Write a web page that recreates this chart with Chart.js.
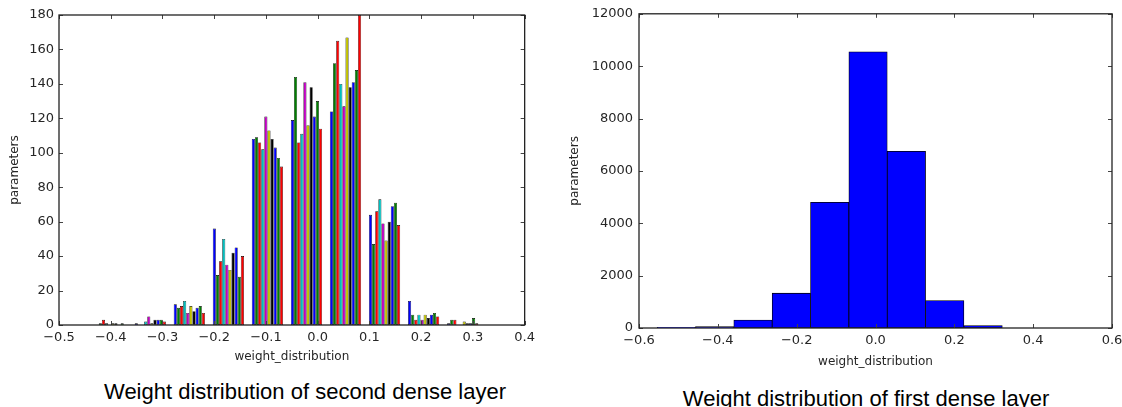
<!DOCTYPE html>
<html>
<head>
<meta charset="utf-8">
<script src="https://cdn.jsdelivr.net/npm/chart.js@4.4.0/dist/chart.umd.min.js"></script>
<style>
  html, body { margin: 0; padding: 0; background: #fff; width: 1122px; height: 407px; overflow: hidden; }
  canvas { position: absolute; top: 0; }
  #leftChart { left: 0; }
  #rightChart { left: 560px; }
  .caption {
    position: absolute; width: 520px; text-align: center;
    font-family: "Liberation Sans Narrow", "Liberation Sans", sans-serif;
    font-size: 22px; line-height: 22px; color: #000; white-space: nowrap;
  }
</style>
</head>
<body>
<canvas id="leftChart" width="540" height="370" style="width:540px;height:370px"></canvas>
<canvas id="rightChart" width="575" height="375" style="width:575px;height:375px"></canvas>
<div class="caption" style="left:45px;top:381px">Weight distribution of second dense layer</div>
<div class="caption" style="left:606px;top:388px">Weight distribution of first dense layer</div>

<script>
// second dense layer: bin centres and one count array per neuron
var binCenters2 = [-0.399, -0.3235, -0.2481, -0.1726, -0.0972, -0.0217, 0.0537, 0.1292, 0.2047, 0.2802];
var neuron0 = [0, 1, 12, 56, 108, 119, 124, 64, 14, 1];
var neuron1 = [1, 0, 10, 29, 109, 144, 152, 47, 6, 3];
var neuron2 = [3, 0, 11, 37, 106, 106, 165, 66, 3, 3];
var neuron3 = [1, 2, 14, 50, 102, 111, 140, 73, 6, 0];
var neuron4 = [0, 5, 7, 35, 121, 141, 127, 59, 3, 0];
var neuron5 = [1, 1, 11, 32, 113, 116, 167, 49, 6, 2];
var neuron6 = [1, 3, 8, 42, 108, 138, 138, 60, 4, 1];
var neuron7 = [0, 3, 10, 45, 103, 121, 141, 69, 6, 1];
var neuron8 = [1, 3, 11, 28, 97, 130, 148, 71, 7, 4];
var neuron9 = [0, 2, 7, 40, 92, 114, 180, 58, 5, 1];
var neuronColors = ['#0000ff', '#008000', '#ff0000', '#00bfbf', '#bf00bf', '#bfbf00', '#000000', '#0000ff', '#008000', '#ff0000'];

// first dense layer
var binCenters1 = [-0.5054, -0.4081, -0.3108, -0.2135, -0.1162, -0.0189, 0.0784, 0.1757, 0.2730];
var counts1 = [30, 50, 300, 1330, 4800, 10550, 6750, 1050, 90];

var tickFont = { family: 'DejaVu Sans', size: 13 };
var titleFont = { family: 'DejaVu Sans', size: 12 };
var textColor = '#262626';

function minusFmt(v, digits) {
    return v.toFixed(digits).replace('-', '\u2212');
}

// matplotlib-like frame with inward ticks on all four sides
var framePlugin = {
    id: 'frame',
    afterDraw: function (chart) {
        var ctx = chart.ctx, a = chart.chartArea, x = chart.scales.x, y = chart.scales.y;
        ctx.save();
        ctx.strokeStyle = '#444';
        ctx.lineWidth = 1;
        ctx.beginPath();
        x.ticks.forEach(function (t) {
            var px = Math.round(x.getPixelForValue(t.value)) + 0.5;
            ctx.moveTo(px, a.bottom); ctx.lineTo(px, a.bottom - 4);
            ctx.moveTo(px, a.top); ctx.lineTo(px, a.top + 4);
        });
        y.ticks.forEach(function (t) {
            var py = Math.round(y.getPixelForValue(t.value)) + 0.5;
            ctx.moveTo(a.left, py); ctx.lineTo(a.left + 4, py);
            ctx.moveTo(a.right, py); ctx.lineTo(a.right - 4, py);
        });
        ctx.stroke();
        ctx.strokeStyle = '#222';
        ctx.lineWidth = 1.3;
        ctx.strokeRect(a.left, a.top, a.right - a.left, a.bottom - a.top);
        ctx.restore();
    }
};

function makeScales(xMin, xMax, xStep, yMax, yStep, yWidth, xHeight, yPad) {
    return {
        x: {
            type: 'linear', min: xMin, max: xMax, offset: false,
            grid: { display: false, drawTicks: false }, border: { display: false },
            ticks: { stepSize: xStep, font: tickFont, color: textColor, padding: 5, maxRotation: 0,
                callback: function (v) { return minusFmt(v, 1); } },
            title: { display: true, text: 'weight_distribution', font: titleFont, color: textColor, padding: { top: 0, bottom: 6 } },
            afterFit: function (scale) { scale.height = xHeight; }
        },
        y: {
            min: 0, max: yMax,
            grid: { display: false, drawTicks: false }, border: { display: false },
            ticks: { stepSize: yStep, font: tickFont, color: textColor, padding: yPad,
                callback: function (v) { return String(v); } },
            title: { display: true, text: 'parameters', font: titleFont, color: textColor, padding: { top: 8, bottom: 0 } },
            afterFit: function (scale) { scale.width = yWidth; }
        }
    };
}

var neurons = [neuron0, neuron1, neuron2, neuron3, neuron4, neuron5, neuron6, neuron7, neuron8, neuron9];

new Chart(document.getElementById('leftChart').getContext('2d'), {
    type: 'bar',
    data: {
        labels: binCenters2,
        datasets: neurons.map(function (vals, i) {
            return {
                label: 'neuron ' + i,
                data: vals,
                backgroundColor: neuronColors[i],
                borderColor: '#000',
                borderWidth: 0.6,
                borderSkipped: false,
                categoryPercentage: 0.8,
                barPercentage: 1.0
            };
        })
    },
    options: {
        responsive: false,
        animation: false,
        layout: { padding: { top: 15, right: 15, left: 0, bottom: 0 } },
        plugins: { legend: { display: false }, tooltip: { enabled: false } },
        scales: makeScales(-0.5, 0.4, 0.1, 180, 20, 59, 45, 5)
    },
    plugins: [framePlugin]
});

new Chart(document.getElementById('rightChart').getContext('2d'), {
    type: 'bar',
    data: {
        labels: binCenters1,
        datasets: [{
            label: 'weights',
            data: counts1,
            backgroundColor: '#0000ff',
            borderColor: '#000',
            borderWidth: 0.8,
            borderSkipped: false,
            categoryPercentage: 1.0,
            barPercentage: 1.0
        }]
    },
    options: {
        responsive: false,
        animation: false,
        layout: { padding: { top: 13, right: 23, left: 0, bottom: 0 } },
        plugins: { legend: { display: false }, tooltip: { enabled: false } },
        scales: makeScales(-0.6, 0.6, 0.2, 12000, 2000, 79, 47, 6)
    },
    plugins: [framePlugin]
});
</script>
</body>
</html>
